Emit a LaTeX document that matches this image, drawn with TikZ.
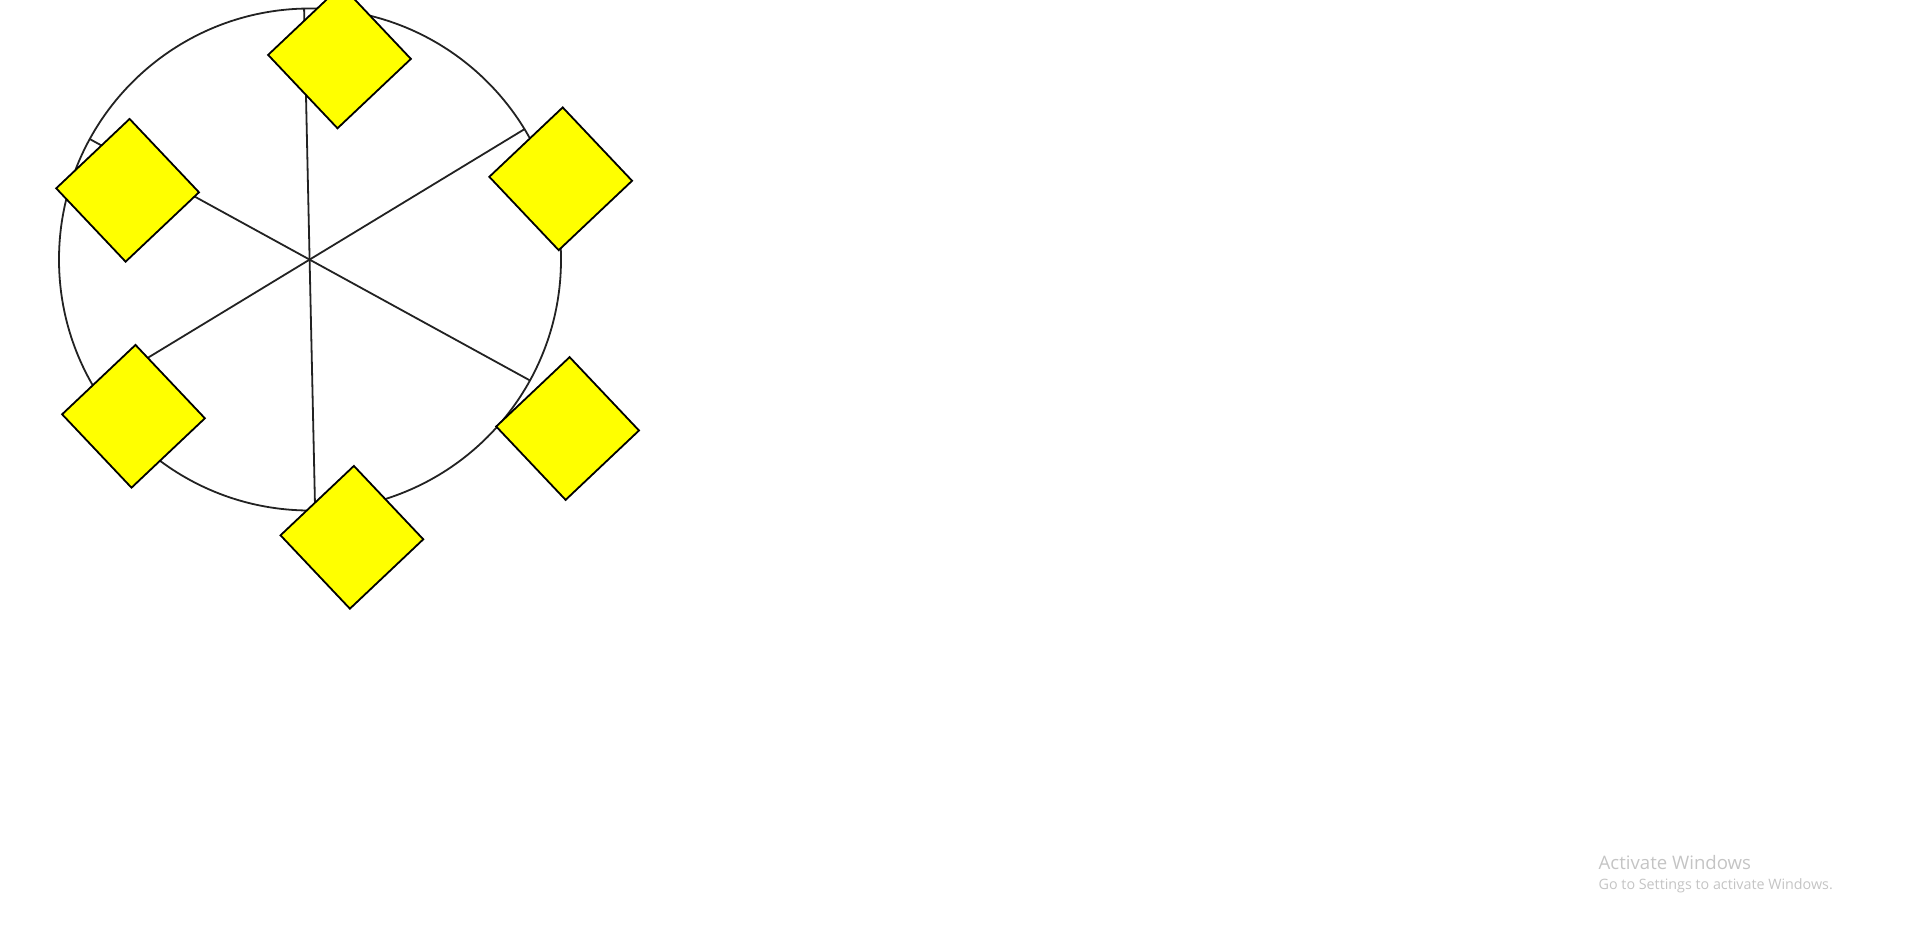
\documentclass[tikz,border=0pt]{standalone}
\usepackage{fontspec}
\newfontfamily\wmfont{Open Sans}
\definecolor{wmgray}{RGB}{196,196,196}
\definecolor{ink}{RGB}{34,34,34}
\definecolor{gem}{RGB}{255,255,0}
\begin{document}
\begin{tikzpicture}[x=1pt,y=-1pt,
  ring/.style={draw=ink,line width=1.8pt,circle,minimum size=502pt,inner sep=0pt},
  spoke/.style={draw=ink,line width=1.8pt},
  gembox/.style={draw=black,line width=1.8pt,fill=gem,minimum size=101pt,inner sep=0pt,rotate=43.4},
  wm/.style={text=wmgray,inner sep=0pt,anchor=base west}]
\useasboundingbox (0,0) rectangle (1919,945);
\coordinate (c) at (309.6,259.6);
\node[ring] (ring) at (310,259.5) {};
\foreach \i/\a in {1/-31.26,2/-91.26,3/-151.26,4/148.74,5/88.74,6/28.74}
  \path (c) ++(\a:251) coordinate (s\i);
\draw[spoke] (s1) -- (s4);
\draw[spoke] (s2) -- (s5);
\draw[spoke] (s3) -- (s6);
\node[gembox] (dT) at (339.5,56.9) {};
\node[gembox] (dUR) at (560.7,178.8) {};
\node[gembox] (dUL) at (127.6,190.3) {};
\node[gembox] (dLL) at (133.5,416.3) {};
\node[gembox] (dB) at (351.9,537.3) {};
\node[gembox] (dLR) at (567.6,428.5) {};
\node[wm,font=\wmfont\fontsize{18.6}{20}\selectfont] (wm1) at (1598.5,869.3) {Activate Windows};
\node[wm,font=\wmfont\fontsize{14.3}{16}\selectfont] (wm2) at (1598.5,889.6) {Go to Settings to activate Windows.};
\end{tikzpicture}
\end{document}
